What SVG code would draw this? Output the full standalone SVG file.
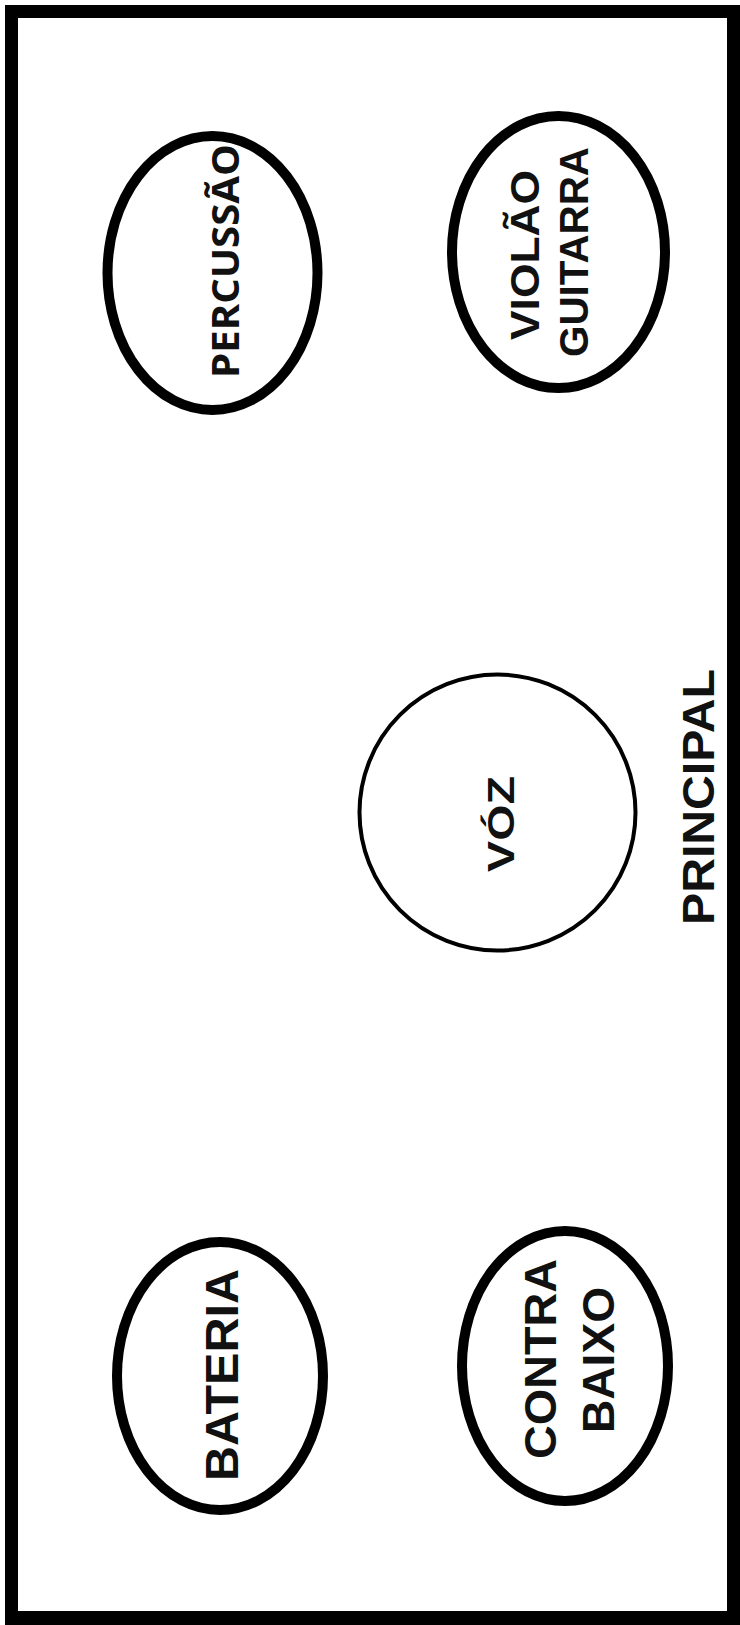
<svg xmlns="http://www.w3.org/2000/svg" width="740" height="1625" viewBox="0 0 740 1625">
  <style>
    .ring { fill: none; stroke: #000; stroke-width: 10; }
    .thin { fill: none; stroke: #000; stroke-width: 4; }
    .lbl { font-family: "Liberation Sans", Arial, sans-serif; font-weight: bold; fill: #111; text-anchor: middle; }
    .lbl2 { font-family: "Open Sans", "Liberation Sans", sans-serif; font-weight: 700; fill: #111; text-anchor: middle; }
  </style>
  <rect x="0" y="0" width="740" height="1625" fill="#fff"/>
  <path id="border" d="M5,5 H740 V1625 H5 Z M18,18 V1611 H727 V18 Z" fill="#000" fill-rule="evenodd"/>
  <g id="connectors"/>
  <g id="percussao">
    <ellipse class="ring" cx="212.5" cy="273" rx="105" ry="137"/>
    <text class="lbl2" transform="translate(239,261) rotate(-90)" font-size="38" textLength="234" lengthAdjust="spacingAndGlyphs">PERCUSSÃO</text>
  </g>
  <g id="violao-guitarra">
    <ellipse class="ring" cx="558.5" cy="252" rx="106.5" ry="136"/>
    <text class="lbl" transform="translate(539,255) rotate(-90)" font-size="40" textLength="170" lengthAdjust="spacingAndGlyphs">VIOLÃO</text>
    <text class="lbl" transform="translate(588,252) rotate(-90)" font-size="41" textLength="210" lengthAdjust="spacingAndGlyphs">GUITARRA</text>
  </g>
  <g id="voz">
    <circle class="thin" cx="497.5" cy="812.5" r="138"/>
    <text class="lbl" transform="translate(514,824) rotate(-90)" font-size="37" textLength="96" lengthAdjust="spacingAndGlyphs">VÓZ</text>
  </g>
  <g id="principal">
    <text class="lbl" transform="translate(714,797) rotate(-90)" font-size="44" textLength="256" lengthAdjust="spacingAndGlyphs">PRINCIPAL</text>
  </g>
  <g id="bateria">
    <ellipse class="ring" cx="220" cy="1376" rx="103" ry="134"/>
    <text class="lbl" transform="translate(238,1375) rotate(-90)" font-size="46" textLength="212" lengthAdjust="spacingAndGlyphs">BATERIA</text>
  </g>
  <g id="contra-baixo">
    <ellipse class="ring" cx="565" cy="1366" rx="103" ry="135"/>
    <text class="lbl" transform="translate(556,1359) rotate(-90)" font-size="44" textLength="200" lengthAdjust="spacingAndGlyphs">CONTRA</text>
    <text class="lbl" transform="translate(614,1360) rotate(-90)" font-size="44" textLength="146" lengthAdjust="spacingAndGlyphs">BAIXO</text>
  </g>
</svg>
